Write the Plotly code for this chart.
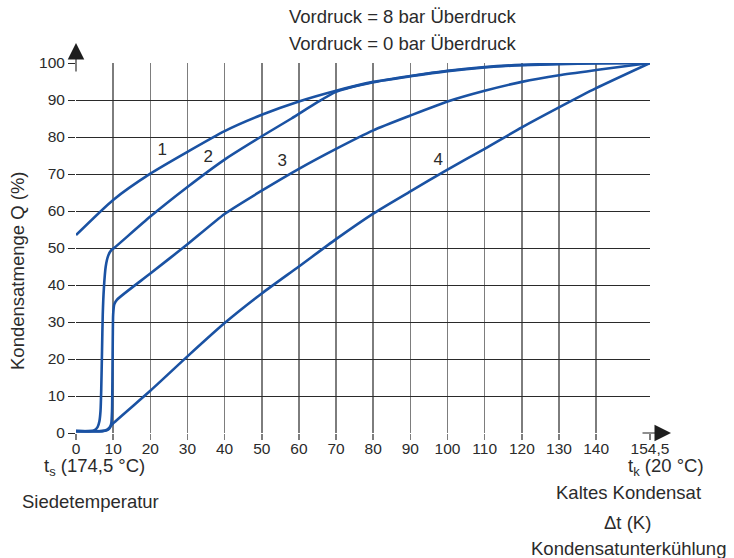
import plotly.graph_objects as go

# ---- data ----
x_ticks = [0, 10, 20, 30, 40, 50, 60, 70, 80, 90, 100, 110, 120, 130, 140, 154.5]
x_tick_text = ["0", "10", "20", "30", "40", "50", "60", "70", "80", "90",
               "100", "110", "120", "130", "140", "154,5"]
y_ticks = [0, 10, 20, 30, 40, 50, 60, 70, 80, 90, 100]

c1_x = [0, 10, 20, 30, 40, 50, 60, 70, 80, 90, 100, 110, 120, 130, 140, 154.5]
c1_y = [53.5, 63.0, 70.1, 76.0, 81.6, 86.0, 89.6, 92.5, 94.9, 96.5, 97.9, 98.9, 99.5, 99.8, 100, 100]

c2_x = [0, 3.5, 5.0, 5.8, 6.3, 6.6, 6.8, 7.0, 7.2, 7.5, 8.0, 8.7, 9.5, 10.5, 20, 30, 40, 50, 58, 65, 70, 80, 90, 100, 110, 120, 130, 140, 154.5]
c2_y = [0.5, 0.5, 0.8, 1.6, 3.2, 6.0, 12, 22, 32, 39, 45, 48, 49.4, 50.2, 58.5, 66.5, 73.9, 80.2, 85.0, 89.4, 92.2, 94.8, 96.4, 97.8, 98.8, 99.4, 99.7, 99.9, 100]

c3_x = [0, 7.0, 8.3, 9.0, 9.5, 9.7, 9.8, 9.9, 10.0, 10.3, 11, 20, 30, 40, 50, 60, 70, 80, 90, 100, 110, 120, 130, 140, 154.5]
c3_y = [0.5, 0.5, 0.7, 1.2, 2.6, 6, 14, 26, 32, 34.8, 36.0, 43.1, 51.0, 59.2, 65.5, 71.4, 76.8, 81.8, 85.8, 89.6, 92.5, 94.9, 96.7, 98.1, 100]

c4_x = [0, 7.0, 8.5, 10, 20, 30, 40, 50, 60, 70, 80, 90, 100, 110, 120, 130, 140, 154.5]
c4_y = [0.5, 0.5, 1.0, 2.6, 11.4, 20.7, 29.7, 37.7, 45.0, 52.4, 59.3, 65.3, 71.2, 76.8, 82.6, 88.0, 93.2, 100]

curve_names = ["1", "2", "3", "4"]
label_x = [23.2, 35.6, 55.5, 97.5]
label_y = [76.2, 74.5, 73.3, 73.5]

# ---- style ----
BLUE = "#1a52a3"
TXT = "#2b2b2b"
FONT = "Liberation Sans, Arial, Helvetica, sans-serif"

fig = go.Figure()
for xs, ys, nm in zip([c1_x, c2_x, c3_x, c4_x], [c1_y, c2_y, c3_y, c4_y], curve_names):
    fig.add_trace(go.Scatter(
        x=xs, y=ys, mode="lines", name=nm,
        line=dict(color=BLUE, width=2.6, shape="spline", smoothing=0.6),
        cliponaxis=False, showlegend=False, hoverinfo="skip"))

fig.add_trace(go.Scatter(
    x=label_x, y=label_y, mode="text", text=curve_names,
    textfont=dict(family=FONT, size=17, color=TXT),
    showlegend=False, hoverinfo="skip", cliponaxis=False))

fig.update_layout(
    width=734, height=558, autosize=False,
    margin=dict(l=76, r=84, t=63, b=125, pad=0),
    paper_bgcolor="white", plot_bgcolor="white",
    font=dict(family=FONT, size=15, color=TXT),
)
fig.update_xaxes(
    range=[0, 154.5], tickmode="array", tickvals=x_ticks, ticktext=x_tick_text,
    showgrid=True, gridcolor="#7d7d7d", gridwidth=1.5,
    ticks="outside", ticklen=6, tickwidth=1.5, tickcolor="#7d7d7d",
    ticklabelstandoff=-5,
    showline=False, zeroline=False, automargin=False,
    tickfont=dict(family=FONT, size=15.5, color=TXT), fixedrange=True,
)
fig.update_yaxes(
    range=[0, 100], tickmode="array", tickvals=y_ticks,
    showgrid=True, gridcolor="#2a2a2a", gridwidth=1,
    ticks="outside", ticklen=7, tickwidth=1, tickcolor="#2a2a2a",
    showline=False, zeroline=False, automargin=False,
    tickfont=dict(family=FONT, size=15.5, color=TXT), fixedrange=True,
)

ann_font = dict(family=FONT, size=18.5, color=TXT)
texts = [
    ("Vordruck = 8 bar Überdruck", 0.568, 1.127),
    ("Vordruck = 0 bar Überdruck", 0.568, 1.054),
    ("t<sub>s</sub> (174,5 °C)", 0.033, -0.092),
    ("Siedetemperatur", 0.026, -0.184),
    ("t<sub>k</sub> (20 °C)", 1.028, -0.092),
    ("Kaltes Kondensat", 0.962, -0.162),
    ("Δt (K)", 0.960, -0.241),
    ("Kondensatunterkühlung", 0.962, -0.312),
]
for t, xp, yp in texts:
    fig.add_annotation(text=t, x=xp, y=yp, xref="paper", yref="paper",
                       xanchor="center", yanchor="middle", showarrow=False,
                       font=ann_font)

fig.add_annotation(text="Kondensatmenge Q (%)", x=-0.101, y=0.438,
                   xref="paper", yref="paper", textangle=-90,
                   xanchor="center", yanchor="middle", showarrow=False,
                   font=ann_font)

# axis arrows
fig.add_annotation(text="", x=1.0366, y=0, xref="paper", yref="paper",
                   ax=-30, ay=0, axref="pixel", ayref="pixel",
                   showarrow=True, arrowhead=2, arrowsize=3, arrowwidth=1.1,
                   arrowcolor="#1e1e1e")
fig.add_annotation(text="", x=0, y=1.054, xref="paper", yref="paper",
                   ax=0, ay=30, axref="pixel", ayref="pixel",
                   showarrow=True, arrowhead=2, arrowsize=3, arrowwidth=1.1,
                   arrowcolor="#1e1e1e")

fig.write_html(
    "out.html",
    config={"displayModeBar": False, "staticPlot": True},
    post_script="document.body.style.margin='0px';document.body.style.overflow='hidden';",
)
